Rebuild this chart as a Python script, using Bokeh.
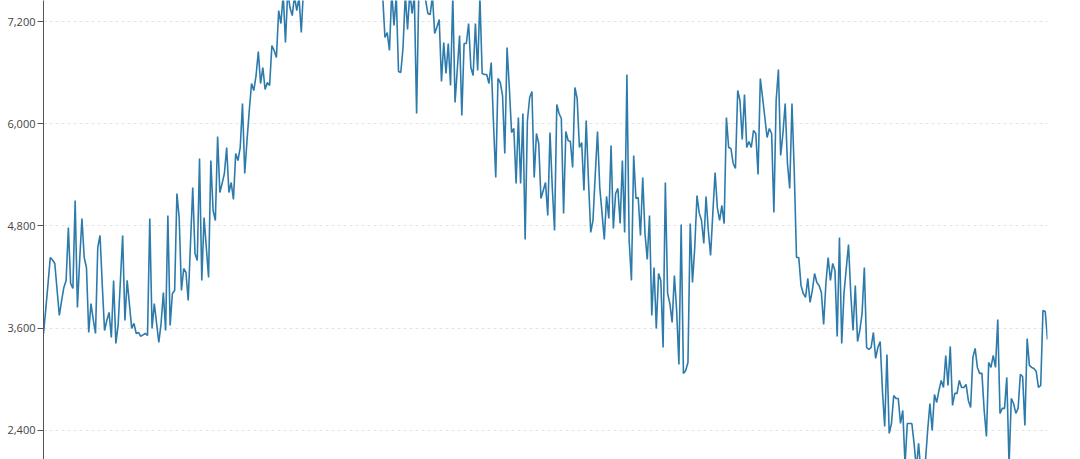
from bokeh.plotting import figure
from bokeh.models import Range1d, FixedTicker, NumeralTickFormatter, ColumnDataSource
from bokeh.embed import file_html
from bokeh.resources import INLINE

values = [
    3537, 3820, 4120, 4429, 4400, 4359, 4050, 3748, 3920, 4077, 4160,
    4782, 4124, 4065, 5099, 3842, 4400, 4887, 4429, 4312, 3549,
    3889, 3700, 3537, 4547, 4688, 4100, 3572, 3690, 3784, 3490,
    4160, 3420, 3631, 4150, 4688, 3690, 4160, 3880, 3596, 3655,
    3537, 3549, 3502, 3520, 3537, 3514, 4887, 3596, 3889, 3660,
    3431, 3655, 4018, 3572, 4922, 3631, 4007, 4042, 5181, 4899,
    4042, 4300, 4253, 3924, 4590, 5251, 4476, 4394, 5592, 4160,
    4899, 4550, 4195,
    5568, 4981, 4864, 5850, 5192, 5300, 5416, 5721, 5192, 5310,
    5110, 5650, 5568, 5721, 6237, 5416, 5803, 6155, 6472, 6390,
    6566, 6848, 6472, 6660, 6402, 6484, 6449, 6918, 6860, 6777,
    7329, 7177, 7520, 6953, 7550, 7364, 7270, 7500, 7329, 7480,
    7071, 7600,
    7800, 7650, 7900, 8100, 7700, 8000, 8200, 7850, 8100, 8300,
    7950, 8200, 8400, 8050, 8300, 8150, 8450, 8200, 7900, 8250,
    8100, 7800, 8050, 7900, 7700, 7950, 7750, 7600, 7850, 7700,
    7550, 7800, 7650, 7700, 7500,
    7012, 7071, 6860, 7550, 7153, 7500, 6613, 6601, 6895, 7520,
    7106, 7550, 7294, 7500, 6120, 7600, 7700, 7550, 7450, 7294,
    7282, 7500, 7059, 7140, 7223, 6496, 6953, 6590, 6942, 6449,
    7500, 6249, 6640, 7036, 6096, 6942, 6942, 7177, 6660, 6566,
    7177, 6625, 7480, 6590, 6578, 6578, 6472, 6719, 6003, 5369,
    6531, 6484, 6331, 5650, 6895, 6425, 5897, 5944, 5298, 6073,
    5298, 6120, 4641, 6038, 6308, 6378, 5369, 5885, 5768,
    5122, 5216, 5310, 4922, 5897, 5251, 4746, 6226, 6120, 6061,
    4946, 5909, 5803, 5791, 5486, 6425, 6296, 5721, 5780, 5216,
    6038, 5333, 4723, 4864, 5400, 5909, 5251, 4950, 4641, 5146,
    4887, 5744, 4770, 5181, 5240, 4828, 5568, 4723, 6578, 4629,
    4160, 5627, 5122, 5134, 4688, 5369, 4711, 4406, 4922, 3748,
    4312, 3596, 4241, 4160, 3373, 5310, 4007, 3889, 3666, 4218,
    3807, 3173, 4817, 3068, 3103, 3197, 4828, 4136, 4547, 5157,
    4950, 4864, 4594,
    5146, 4746, 4453, 4950, 5427, 5016, 4864, 5040, 4828, 6073,
    5721, 5709, 5533, 5474, 6390, 6273, 5815, 6343, 5721, 5791,
    5721, 5921, 5885, 5404, 6531, 6308, 6073, 5838, 5944, 5885,
    4958, 6273, 6636, 5627, 5885, 6237, 5533, 5240, 6237, 5451,
    4429, 4429, 4101, 4007, 3960, 4183, 3901, 4042, 4241, 4136,
    4101, 4018, 3643, 4124, 4429, 4160, 4359, 4277, 3502, 4664,
    3420, 4007, 4300, 4582, 4007, 3572, 4101, 3443, 3572, 3772,
    4312, 3373, 3349,
    3373, 3549, 3244, 3373, 3443, 2868, 2445, 3291, 2363, 2480,
    2809, 2774, 2774, 2480, 2633, 2000, 2480, 2480, 2480, 2246,
    1950, 2246, 1900, 1950, 2030, 2398, 2715, 2398, 2821, 2727,
    2868, 2985, 2903, 3279, 2927, 3385, 2692, 2833, 2833, 2985,
    2903, 2903, 2939, 2751, 2668, 3256, 3361, 3138, 3068, 3068,
    2633, 2328, 3197, 3138, 3279, 3138, 3701, 2598, 2657, 2657,
    3021, 2000, 2774, 2715, 2598, 2657, 3056, 3032, 2457, 3478,
    3162, 3138, 3126, 3091, 2903, 2927, 3807, 3795, 3467,
]
index = list(range(len(values)))
y_ticks = [2400, 3600, 4800, 6000, 7200]

src = ColumnDataSource(data=dict(x=index, y=values))

p = figure(
    width=1064, height=459,
    output_backend="svg", toolbar_location=None,
    x_range=Range1d(0, len(values) - 1),
    y_range=Range1d(2057, 7447),
    x_axis_type=None,
    min_border_left=43, min_border_right=17,
    min_border_top=0, min_border_bottom=0,
)
p.outline_line_color = None
p.background_fill_color = "white"
p.border_fill_color = "white"

p.line("x", "y", source=src, line_color="#2d7bab", line_width=1.6)

ax = p.yaxis[0]
ax.ticker = FixedTicker(ticks=y_ticks)
ax.formatter = NumeralTickFormatter(format="0,0")
ax.axis_line_color = "#555555"
ax.major_tick_line_color = "#555555"
ax.major_tick_out = 6
ax.major_tick_in = 0
ax.minor_tick_line_color = None
ax.major_label_standoff = 2
ax.major_label_text_font = "Open Sans"
ax.major_label_text_font_size = "11px"
ax.major_label_text_color = "#444444"

p.xgrid.grid_line_color = None
p.ygrid.ticker = FixedTicker(ticks=y_ticks)
p.ygrid.grid_line_color = "#e3e3e3"
p.ygrid.grid_line_dash = "3 3"

open("out.html", "w").write(file_html(p, INLINE))
